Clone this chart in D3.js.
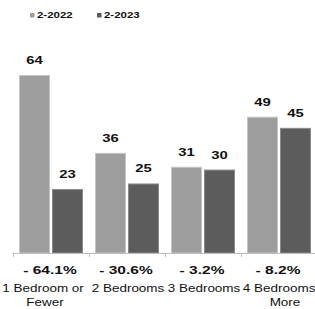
<!DOCTYPE html>
<html lang="en">
	<head>
		<meta charset="utf-8">
		<title>Bedrooms bar chart</title>
		<script type="text/javascript" src="https://cdn.jsdelivr.net/npm/d3@7"></script>
		<style type="text/css">
			body { margin: 0; background: white; }
			text { font-family: "Liberation Sans", Arial, sans-serif; fill: #111; }
			.val { font-size: 11px; font-weight: bold; }
			.pct { font-size: 11.5px; font-weight: bold; }
			.cat { font-size: 10px; }
			.leg { font-size: 8.5px; font-weight: bold; }
		</style>
	</head>
	<body>
		<svg width="315" height="309" class="plot"></svg>

		<script>
			var categories = [["1 Bedroom or", "Fewer"], ["2 Bedrooms"], ["3 Bedrooms"], ["4 Bedrooms or", "More"]];
			var seriesNames = ["2-2022", "2-2023"];
			var values2022 = [64, 36, 31, 49];
			var values2023 = [23, 25, 30, 45];
			var changeLabels = ["- 64.1%", "- 30.6%", "- 3.2%", "- 8.2%"];

			var colors = ["#9e9e9e", "#5c5c5c"];
			var strokes = ["#c4c4c4", "#8a8a8a"];
			var sx = 1.35; // text in the picture is stretched sideways

			var svg = d3.select('.plot');
			var width = +svg.attr('width');
			var baseY = 253;

			var x0 = d3.scaleBand()
				.domain(d3.range(categories.length))
				.range([13, 317]);
			var x1 = d3.scaleBand()
				.domain(seriesNames)
				.range([6, 70])
				.paddingInner(0.06);
			var y = d3.scaleLinear()
				.domain([0, 64])
				.range([baseY, 75]);

			var rows = categories.map(function(c, i){
				return [values2022[i], values2023[i]];
			});

			function stretch(x, yy){
				return 'translate(' + x + ',' + yy + ') scale(' + sx + ',1)';
			}

			// bars
			var groups = svg.selectAll('.grp')
				.data(rows)
				.enter()
				.append('g')
				.attr('class', 'grp')
				.attr('transform', function(d, i){ return 'translate(' + x0(i) + ',0)'; });

			groups.selectAll('rect')
				.data(function(d){ return d.map(function(v, j){ return {v: v, s: seriesNames[j], j: j}; }); })
				.enter()
				.append('rect')
				.attr('x', function(d){ return x1(d.s) + 0.5; })
				.attr('y', function(d){ return y(d.v) + 0.5; })
				.attr('width', x1.bandwidth() - 1)
				.attr('height', function(d){ return baseY - y(d.v) - 0.5; })
				.attr('fill', function(d){ return colors[d.j]; })
				.attr('stroke', function(d){ return strokes[d.j]; })
				.attr('stroke-width', 1);

			groups.selectAll('.val')
				.data(function(d){ return d.map(function(v, j){ return {v: v, s: seriesNames[j]}; }); })
				.enter()
				.append('text')
				.attr('class', 'val')
				.attr('text-anchor', 'middle')
				.attr('transform', function(d){ return stretch(x1(d.s) + x1.bandwidth() / 2, y(d.v) - 11); })
				.text(function(d){ return d.v; });

			// axis line with category ticks
			svg.append('line')
				.attr('x1', 13).attr('x2', width)
				.attr('y1', baseY + 0.5).attr('y2', baseY + 0.5)
				.attr('stroke', '#bdbdbd');
			svg.selectAll('.tk')
				.data(d3.range(categories.length + 1))
				.enter()
				.append('line')
				.attr('class', 'tk')
				.attr('x1', function(d){ return Math.round(13 + d * x0.step()) + 0.5; })
				.attr('x2', function(d){ return Math.round(13 + d * x0.step()) + 0.5; })
				.attr('y1', baseY).attr('y2', baseY + 4)
				.attr('stroke', '#bdbdbd');

			// change labels
			svg.selectAll('.pct')
				.data(changeLabels)
				.enter()
				.append('text')
				.attr('class', 'pct')
				.attr('text-anchor', 'middle')
				.attr('transform', function(d, i){ return stretch(x0(i) + x0.bandwidth() / 2 - 1, 274); })
				.text(function(d){ return d; });

			// category labels: outer two wrapped labels sit pushed outward
			categories.forEach(function(lines, i){
				var nudge = i === 0 ? -8 : (i === categories.length - 1 ? 8 : 1);
				lines.forEach(function(t, k){
					svg.append('text')
						.attr('class', 'cat')
						.attr('text-anchor', 'middle')
						.attr('transform', stretch(x0(i) + x0.bandwidth() / 2 + nudge - (k ? 2 : 0) * Math.sign(nudge), 292 + k * 14))
						.text(t);
				});
			});

			// legend
			var leg = svg.selectAll('.legend')
				.data(seriesNames)
				.enter()
				.append('g')
				.attr('class', 'legend')
				.attr('transform', function(d, i){ return 'translate(' + (30 + i * 67) + ',13)'; });
			leg.append('rect')
				.attr('width', 4.5).attr('height', 4.5)
				.attr('fill', function(d, i){ return colors[i]; });
			leg.append('text')
				.attr('class', 'leg')
				.attr('transform', 'translate(7,4.8) scale(' + sx + ',1)')
				.text(function(d){ return d; });
		</script>
	</body>
</html>
